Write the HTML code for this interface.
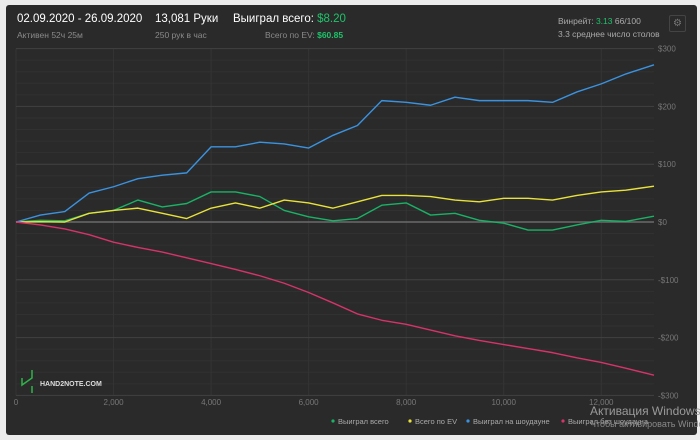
<!DOCTYPE html>
<html><head><meta charset="utf-8"><style>
body{margin:0;width:700px;height:440px;background:#ececec;font-family:"Liberation Sans",sans-serif;overflow:hidden;position:relative}
#panel{position:absolute;left:6px;top:5px;width:691px;height:430px;background:#2a2a2a;border-radius:3px}
.t{position:absolute;white-space:nowrap;color:#fff}
.s{font-size:8.5px;color:#8a8a8a}
.g{color:#1fc26b}
</style></head><body>
<div id="panel"></div>
<div class="t" style="left:17px;top:13px;font-size:11.5px">02.09.2020 - 26.09.2020</div>
<div class="t s" style="left:17px;top:30px">Активен 52ч 25м</div>
<div class="t" style="left:155px;top:13px;font-size:11.5px">13,081 Руки</div>
<div class="t s" style="left:155px;top:30px">250 рук в час</div>
<div class="t" style="left:233px;top:13px;font-size:11.5px">Выиграл всего: <span class="g">$8.20</span></div>
<div class="t s" style="left:265px;top:30px">Всего по EV: <span class="g" style="font-weight:bold">$60.85</span></div>
<div class="t" style="left:558px;top:16px;font-size:8.5px;color:#aaa">Винрейт: <span class="g">3.13</span> 66/100</div>
<div class="t" style="left:558px;top:29px;font-size:8.5px;color:#aaa">3.3 среднее число столов</div>
<div class="t" style="left:669px;top:15px;width:15px;height:15px;border:1px solid #444;border-radius:2px;color:#777;font-size:10px;text-align:center;line-height:15px">⚙</div>
<svg id="chart" width="700" height="440" style="position:absolute;left:0;top:0"></svg>
<div class="t" style="left:590px;top:404px;font-size:12px;color:#9a9a9a">Активация Windows</div>
<div class="t" style="left:590px;top:419px;font-size:9px;color:#8a8a8a">Чтобы активировать Windows</div>
<script>
const hands=[0,500,1000,1500,2000,2500,3000,3500,4000,4500,5000,5500,6000,6500,7000,7500,8000,8500,9000,9500,10000,10500,11000,11500,12000,12500,13081];
const wonTotal=[0,3,2,15,20,38,26,32,52,52,44,20,9,2,6,29,33,12,15,3,-2,-14,-14,-5,3,1,10];
const evTotal=[0,0.5,0,15,20,24,15,6,24,33,24,38,33,24,35,46,46,44,38,35,41,41,38,46,52,55,62];
const showdown=[0,12,18,50,61,75,81,85,130,130,138,135,128,150,167,210,207,202,216,210,210,210,207,225,239,256,272];
const nonShowdown=[0,-5,-12,-22,-35,-44,-52,-62,-72,-82,-93,-106,-122,-140,-159,-170,-177,-187,-197,-205,-212,-219,-226,-235,-243,-253,-265];
const xTicks=[0,2000,4000,6000,8000,10000,12000];
const xTickLabels=["0","2,000","4,000","6,000","8,000","10,000","12,000"];
const yTicks=[300,200,100,0,-100,-200,-300];
const yTickLabels=["$300","$200","$100","$0","-$100","-$200","-$300"];
const series=[["won-total-line",wonTotal,"#19b266"],["ev-total-line",evTotal,"#e8e23a"],["showdown-line",showdown,"#3a93e0"],["non-showdown-line",nonShowdown,"#d6336a"]];
const legendNames=["Выиграл всего","Всего по EV","Выиграл на шоудауне","Выиграл без шоудауна"];
const NS="http://www.w3.org/2000/svg";
const svg=document.getElementById('chart');
const X0=16,X1=654,XMAX=13081,Y0=222,PY=0.578;
const xs=h=>X0+h*(X1-X0)/XMAX;
const ys=v=>Y0-v*PY;
function mk(t,a){const e=document.createElementNS(NS,t);for(const k in a)e.setAttribute(k,a[k]);svg.appendChild(e);return e;}
for(let v=-300;v<=300;v+=20){
  if(v%100===0)continue;
  const l=mk('line',{x1:X0,x2:X1,y1:ys(v),y2:ys(v),stroke:'#313131','stroke-width':1});
  
  
}
xTicks.forEach((h,i)=>{
  const l=mk('line',{x1:xs(h),x2:xs(h),y1:ys(300),y2:ys(-300),stroke:'#343434','stroke-width':1});
  
  
  const t=mk('text',{x:xs(h),y:405,'font-size':8,fill:'#777','text-anchor':'middle','font-family':'Liberation Sans, sans-serif'});
  t.textContent=xTickLabels[i];
  
  
});
yTicks.forEach((v,i)=>{
  const l=mk('line',{x1:X0,x2:X1,y1:ys(v),y2:ys(v),stroke:v===0?'#6a6a6a':'#424242','stroke-width':v===0?1.5:1});
  
  
  const t=mk('text',{x:658,y:ys(v)+3,'font-size':8,fill:'#777','font-family':'Liberation Sans, sans-serif'});
  t.textContent=yTickLabels[i];
  
  
});
series.forEach(s=>{
  const p=mk('polyline',{points:hands.map((h,i)=>xs(h)+','+ys(s[1][i])).join(' '),fill:'none',stroke:s[2],'stroke-width':1.4,'stroke-linejoin':'round'});
  
  
});
const lx=[333,410,468,563];
legendNames.forEach((n,i)=>{
  const c=mk('circle',{cx:lx[i],cy:421,r:1.6,fill:series[i][2]});
  
  
  const t=mk('text',{x:lx[i]+5,y:424,'font-size':7.5,fill:'#aaa','font-family':'Liberation Sans, sans-serif'});
  t.textContent=n;
  
  
});
const lg=mk('path',{d:'M22 378 V385 L32 378 V370 M32 386 V393',stroke:'#2fb34a','stroke-width':1.5,fill:'none'});


const lt=mk('text',{x:40,y:386,'font-size':7,'font-weight':'bold',fill:'#ddd','font-family':'Liberation Sans, sans-serif'});
lt.textContent='HAND2NOTE.COM';


</script>
</body></html>
